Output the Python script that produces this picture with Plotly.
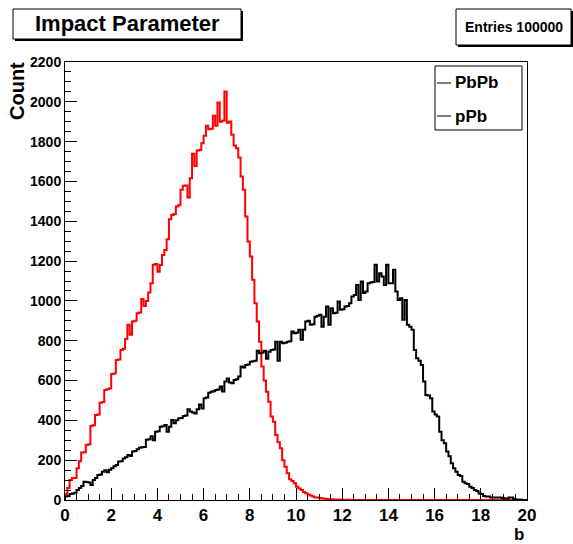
import plotly.graph_objects as go

# ---------------- data ----------------
bin_width = 0.1
x_ticks = [0, 2, 4, 6, 8, 10, 12, 14, 16, 18, 20]
y_ticks = [0, 200, 400, 600, 800, 1000, 1200, 1400, 1600, 1800, 2000, 2200]
series_names = ["PbPb", "pPb"]

pbpb = [
    30, 60, 100, 110, 110, 160, 195, 238, 240, 276,
    280, 372, 375, 427, 430, 489, 492, 553, 556, 560,
    633, 636, 703, 706, 753, 760, 809, 880, 830, 896,
    900, 938, 942, 1010, 975, 1000, 1042, 1089, 1181, 1185,
    1147, 1180, 1231, 1256, 1310, 1410, 1432, 1436, 1474, 1480,
    1558, 1578, 1580, 1520, 1616, 1739, 1678, 1755, 1758, 1792,
    1829, 1880, 1862, 1865, 1930, 1880, 1996, 1900, 1905, 2052,
    1895, 1901, 1834, 1780, 1767, 1720, 1625, 1558, 1424, 1298,
    1223, 1106, 988, 896, 795, 670, 600, 544, 494, 420,
    393, 327, 290, 260, 200, 167, 134, 104, 95, 84,
    67, 58, 50, 40, 34, 28, 22, 18, 13, 12,
    10, 8, 6, 5, 4, 4, 3, 2, 2, 1,
    1, 0, 1, 0, 0, 0, 0, 0, 0, 0,
    0, 0, 0, 0, 0, 0, 0, 0, 0, 0,
    0, 0, 0, 0, 0, 0, 0, 0, 0, 0,
    0, 0, 0, 0, 0, 0, 0, 0, 0, 0,
    0, 0, 0, 0, 0, 0, 0, 0, 0, 0,
    0, 0, 0, 0, 0, 0, 0, 0, 0, 0,
    0, 0, 0, 0, 0, 0, 0, 0, 0, 0,
    0, 0, 0, 0, 0, 0, 0, 0, 0, 0,
]

ppb = [
    17, 20, 30, 33, 36, 50, 60, 70, 92, 90,
    88, 75, 100, 110, 125, 128, 142, 150, 140, 152,
    159, 170, 176, 193, 195, 209, 215, 226, 221, 243,
    246, 255, 262, 265, 266, 302, 305, 320, 300, 343,
    345, 368, 370, 377, 343, 368, 402, 385, 400, 410,
    412, 422, 425, 456, 444, 440, 435, 456, 480, 460,
    511, 515, 539, 544, 546, 553, 555, 570, 545, 595,
    610, 590, 586, 603, 606, 620, 670, 665, 678, 680,
    695, 697, 700, 750, 737, 740, 750, 710, 745, 754,
    756, 795, 700, 795, 787, 790, 795, 798, 846, 838,
    840, 855, 805, 855, 896, 900, 880, 883, 921, 925,
    930, 870, 921, 972, 880, 963, 938, 940, 997, 955,
    958, 972, 975, 988, 1022, 1030, 1080, 1005, 1097, 1040,
    1047, 1089, 1092, 1095, 1181, 1097, 1139, 1122, 1080, 1181,
    1089, 1089, 1156, 1047, 1005, 1013, 905, 1005, 880, 870,
    855, 754, 712, 700, 678, 595, 528, 525, 511, 444,
    430, 419, 343, 300, 285, 243, 220, 184, 160, 142,
    126, 120, 92, 84, 80, 67, 60, 50, 45, 33,
    30, 20, 18, 17, 13, 13, 13, 12, 13, 10,
    8, 8, 13, 12, 5, 3, 2, 1, 0, 0,
]

# ---------------- figure ----------------
W, H = 573, 544
L, R, T, B = 65, 46, 62, 44
PW, PH = W - L - R, H - T - B


def px(x):
    return (x - L) / PW


def py(y):
    return (H - B - y) / PH


def step(vals):
    edges = [round(i * bin_width, 4) for i in range(len(vals) + 1)]
    xs = [edges[0]] + edges[:-1] + [edges[-1]]
    ys = [0] + list(vals) + [vals[-1]]
    return xs, ys


FONT = "Liberation Sans"
fig = go.Figure()

for vals, color, name in [(pbpb, "#ff0000", series_names[0]), (ppb, "#000000", series_names[1])]:
    xs, ys = step(vals)
    fig.add_trace(go.Scatter(x=xs, y=ys, mode="lines", line=dict(color=color, width=2, shape="hv"),
                             name=name, showlegend=False, cliponaxis=False, hoverinfo="skip"))

fig.update_layout(
    width=W, height=H,
    margin=dict(l=L, r=R, t=T, b=B, pad=0),
    paper_bgcolor="white", plot_bgcolor="white",
    showlegend=False,
    font=dict(family=FONT, color="black"),
)

fig.update_xaxes(
    range=[0, 20], tickvals=x_ticks, ticktext=[str(v) for v in x_ticks],
    ticks="inside", ticklen=12, tickwidth=1, tickcolor="black",
    minor=dict(dtick=0.5, ticks="inside", ticklen=6, tickwidth=1, tickcolor="black", showgrid=False),
    showline=True, linecolor="black", linewidth=1, mirror=True,
    showgrid=False, zeroline=False,
    tickfont=dict(family=FONT, size=17, weight="bold", color="black"),
)
fig.update_yaxes(
    range=[0, 2200], tickvals=y_ticks, ticktext=[str(v) for v in y_ticks],
    ticks="inside", ticklen=12, tickwidth=1, tickcolor="black",
    minor=dict(dtick=50, ticks="inside", ticklen=6, tickwidth=1, tickcolor="black", showgrid=False),
    showline=True, linecolor="black", linewidth=1, mirror=True,
    showgrid=False, zeroline=False,
    tickfont=dict(family=FONT, size=14, weight="bold", color="black"),
)

shapes = []
# title box with shadow
shapes.append(dict(type="rect", xref="paper", yref="paper", x0=px(15), x1=px(243), y0=py(41), y1=py(11),
                   line=dict(width=0), fillcolor="black", layer="below"))
shapes.append(dict(type="rect", xref="paper", yref="paper", x0=px(13), x1=px(241), y0=py(39), y1=py(9),
                   line=dict(color="black", width=1), fillcolor="white", layer="below"))
# stats box with shadow
shapes.append(dict(type="rect", xref="paper", yref="paper", x0=px(458), x1=px(573), y0=py(47), y1=py(11),
                   line=dict(width=0), fillcolor="black", layer="below"))
shapes.append(dict(type="rect", xref="paper", yref="paper", x0=px(456), x1=px(571), y0=py(45), y1=py(9),
                   line=dict(color="black", width=1), fillcolor="white", layer="below"))
# legend box
shapes.append(dict(type="rect", xref="paper", yref="paper", x0=px(435), x1=px(522), y0=py(130), y1=py(66),
                   line=dict(color="black", width=1), fillcolor="white", layer="above"))
legend_y = [83, 116]
for ly in legend_y:
    shapes.append(dict(type="line", xref="paper", yref="paper", x0=px(437), x1=px(451), y0=py(ly), y1=py(ly),
                       line=dict(color="black", width=1), layer="above"))

annotations = [
    dict(text="Impact Parameter", x=px(127), y=py(23), xref="paper", yref="paper", showarrow=False,
         xanchor="center", yanchor="middle", font=dict(family=FONT, size=22, weight="bold", color="black")),
    dict(text="Entries 100000", x=px(514), y=py(27), xref="paper", yref="paper", showarrow=False,
         xanchor="center", yanchor="middle", font=dict(family=FONT, size=14, weight="bold", color="black")),
    dict(text="Count", x=px(17), y=py(91), xref="paper", yref="paper", showarrow=False, textangle=-90,
         xanchor="center", yanchor="middle", font=dict(family=FONT, size=20, weight="bold", color="black")),
    dict(text="b", x=px(519), y=py(545), xref="paper", yref="paper", showarrow=False,
         xanchor="center", yanchor="bottom", borderpad=0,
         font=dict(family=FONT, size=17, weight="bold", color="black")),
]
for name, ly in zip(series_names, legend_y):
    annotations.append(dict(text=name, x=px(453), y=py(ly), xref="paper", yref="paper", showarrow=False,
                            xanchor="left", yanchor="middle",
                            font=dict(family=FONT, size=17, weight="bold", color="black")))

fig.update_layout(shapes=shapes, annotations=annotations)
fig.write_html("out.html")
